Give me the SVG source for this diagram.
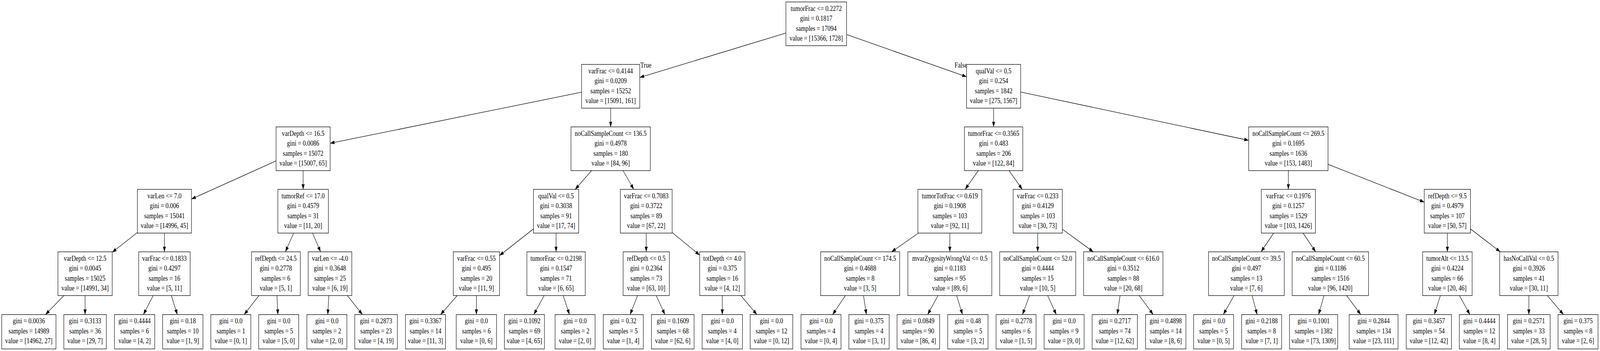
<svg xmlns="http://www.w3.org/2000/svg" width="4880" height="899" viewBox="0 0 4880 899" preserveAspectRatio="none">
<style>
svg{width:100vw;height:100vh;display:block}
.nd rect{fill:#fff;stroke:#000;stroke-width:1.3}
text{font-family:"Liberation Serif","Times New Roman",serif;font-size:18.3px;fill:#000;text-anchor:middle}
.edges line{stroke:#000;stroke-width:1.3;fill:none;marker-end:url(#ah)}
</style>
<defs>
<marker id="ah" markerUnits="userSpaceOnUse" markerWidth="14" markerHeight="10" viewBox="0 0 14 10" refX="13.3" refY="4.7" orient="auto"><path d="M0,0 L13.3,4.7 L0,9.4 z" fill="#000"/></marker>
</defs>
<rect width="4880" height="899" fill="#fff"/>
<g id="edges" class="edges">
<line x1="2397" y1="84.6" x2="1951.25" y2="198.35"/>
<line x1="2582" y1="88.36" x2="2948" y2="196.6"/>
<line x1="1773.75" y1="236.14" x2="1007" y2="366.93"/>
<line x1="1862.5" y1="277" x2="1862.5" y2="325"/>
<line x1="842" y1="412.2" x2="584" y2="509.8"/>
<line x1="924.5" y1="437" x2="924.5" y2="485"/>
<line x1="419" y1="595.55" x2="342.25" y2="646.3"/>
<line x1="501.5" y1="597" x2="501.5" y2="645"/>
<line x1="194.9" y1="757" x2="138.7" y2="805.7"/>
<line x1="259.5" y1="757" x2="259.5" y2="805.7"/>
<line x1="467.2" y1="757" x2="437.4" y2="805.7"/>
<line x1="522.6" y1="757" x2="540.9" y2="805.7"/>
<line x1="895.45" y1="597" x2="870.55" y2="645"/>
<line x1="953.2" y1="597" x2="977.8" y2="645"/>
<line x1="789.7" y1="757" x2="744.7" y2="805.7"/>
<line x1="844.7" y1="757" x2="847.5" y2="805.7"/>
<line x1="1002.9" y1="757" x2="999.8" y2="805.7"/>
<line x1="1059.4" y1="757" x2="1105.4" y2="805.7"/>
<line x1="1804.2" y1="437" x2="1754.3" y2="485"/>
<line x1="1900.5" y1="437" x2="1933" y2="485"/>
<line x1="1627" y1="586.4" x2="1523.5" y2="654.6"/>
<line x1="1696" y1="597" x2="1696" y2="645"/>
<line x1="1394.5" y1="757" x2="1343.7" y2="805.7"/>
<line x1="1453" y1="757" x2="1453" y2="805.7"/>
<line x1="1659.7" y1="757" x2="1628.1" y2="805.7"/>
<line x1="1717.8" y1="757" x2="1736.8" y2="805.7"/>
<line x1="1971" y1="597" x2="1971" y2="645"/>
<line x1="2050" y1="595.5" x2="2134" y2="653.4"/>
<line x1="1944.6" y1="757" x2="1921.7" y2="805.7"/>
<line x1="2001.5" y1="757" x2="2028" y2="805.7"/>
<line x1="2203" y1="757" x2="2203" y2="805.7"/>
<line x1="2259.5" y1="757" x2="2308.6" y2="805.7"/>
<line x1="3030.5" y1="277" x2="3030.5" y2="325"/>
<line x1="2983.8" y1="437" x2="2943.7" y2="485"/>
<line x1="3077.6" y1="437" x2="3117.9" y2="485"/>
<line x1="2801.3" y1="597" x2="2719.2" y2="645"/>
<line x1="2897" y1="597" x2="2897" y2="645"/>
<line x1="2578.5" y1="757" x2="2539.4" y2="805.7"/>
<line x1="2633.7" y1="757" x2="2642.5" y2="805.7"/>
<line x1="2860.8" y1="757" x2="2829.4" y2="805.7"/>
<line x1="2917.7" y1="757" x2="2935.7" y2="805.7"/>
<line x1="3165" y1="597" x2="3165" y2="645"/>
<line x1="3240" y1="587" x2="3334.65" y2="645"/>
<line x1="3140.1" y1="757" x2="3118.5" y2="805.7"/>
<line x1="3195.3" y1="757" x2="3221.7" y2="805.7"/>
<line x1="3416.2" y1="757" x2="3407.7" y2="805.7"/>
<line x1="3474.8" y1="757" x2="3517.2" y2="805.7"/>
<line x1="3113" y1="235.7" x2="3808.5" y2="359.5"/>
<line x1="3929.5" y1="437" x2="3929.5" y2="485"/>
<line x1="4050.5" y1="420.9" x2="4344" y2="517.7"/>
<line x1="3884.7" y1="597" x2="3846.3" y2="645"/>
<line x1="3974.3" y1="597" x2="4012.7" y2="645"/>
<line x1="3763.8" y1="757" x2="3731.1" y2="805.7"/>
<line x1="3819" y1="757" x2="3834.2" y2="805.7"/>
<line x1="4038.3" y1="757" x2="4021.6" y2="805.7"/>
<line x1="4107.2" y1="757" x2="4150.4" y2="805.7"/>
<line x1="4414.5" y1="597" x2="4414.5" y2="645"/>
<line x1="4485" y1="586.4" x2="4576" y2="645"/>
<line x1="4393.2" y1="757" x2="4374.7" y2="805.7"/>
<line x1="4451.2" y1="757" x2="4483.1" y2="805.7"/>
<line x1="4663" y1="757" x2="4663" y2="805.7"/>
<line x1="4719.5" y1="757" x2="4768.6" y2="805.7"/>
<text x="1953" y="173" style="text-anchor:start">True</text>
<text x="2950" y="173" style="text-anchor:end">False</text>
</g>
<g id="node0" class="nd" transform="translate(2489.5,61)"><rect x="-92.5" y="-56" width="185" height="112"/><text y="-33.3">tumorFrac &lt;= 0.2272</text><text y="-7.8">gini = 0.1817</text><text y="17.7">samples = 17094</text><text y="43.2">value = [15366, 1728]</text></g>
<g id="node1" class="nd" transform="translate(1862.5,221)"><rect x="-88.75" y="-56" width="177.5" height="112"/><text y="-33.3">varFrac &lt;= 0.4144</text><text y="-7.8">gini = 0.0209</text><text y="17.7">samples = 15252</text><text y="43.2">value = [15091, 161]</text></g>
<g id="node2" class="nd" transform="translate(924.5,381)"><rect x="-82.5" y="-56" width="165" height="112"/><text y="-33.3">varDepth &lt;= 16.5</text><text y="-7.8">gini = 0.0086</text><text y="17.7">samples = 15072</text><text y="43.2">value = [15007, 65]</text></g>
<g id="node3" class="nd" transform="translate(501.5,541)"><rect x="-82.5" y="-56" width="165" height="112"/><text y="-33.3">varLen &lt;= 7.0</text><text y="-7.8">gini = 0.006</text><text y="17.7">samples = 15041</text><text y="43.2">value = [14996, 45]</text></g>
<g id="node4" class="nd" transform="translate(259.5,701)"><rect x="-82.75" y="-56" width="165.5" height="112"/><text y="-33.3">varDepth &lt;= 12.5</text><text y="-7.8">gini = 0.0045</text><text y="17.7">samples = 15025</text><text y="43.2">value = [14991, 34]</text></g>
<g id="node5" class="nd" transform="translate(88,849.7)"><rect x="-82.7" y="-44" width="165.4" height="88"/><text y="-21.4">gini = 0.0036</text><text y="4.1">samples = 14989</text><text y="29.6">value = [14962, 27]</text></g>
<g id="node6" class="nd" transform="translate(259.5,849.7)"><rect x="-64.8" y="-44" width="129.6" height="88"/><text y="-21.4">gini = 0.3133</text><text y="4.1">samples = 36</text><text y="29.6">value = [29, 7]</text></g>
<g id="node7" class="nd" transform="translate(501.5,701)"><rect x="-78.5" y="-56" width="157" height="112"/><text y="-33.3">varFrac &lt;= 0.1833</text><text y="-7.8">gini = 0.4297</text><text y="17.7">samples = 16</text><text y="43.2">value = [5, 11]</text></g>
<g id="node8" class="nd" transform="translate(410.5,849.7)"><rect x="-61.5" y="-44" width="123" height="88"/><text y="-21.4">gini = 0.4444</text><text y="4.1">samples = 6</text><text y="29.6">value = [4, 2]</text></g>
<g id="node9" class="nd" transform="translate(557.5,849.7)"><rect x="-61.5" y="-44" width="123" height="88"/><text y="-21.4">gini = 0.18</text><text y="4.1">samples = 10</text><text y="29.6">value = [1, 9]</text></g>
<g id="node10" class="nd" transform="translate(924.5,541)"><rect x="-77" y="-56" width="154" height="112"/><text y="-33.3">tumorRef &lt;= 17.0</text><text y="-7.8">gini = 0.4579</text><text y="17.7">samples = 31</text><text y="43.2">value = [11, 20]</text></g>
<g id="node11" class="nd" transform="translate(841.5,701)"><rect x="-74.5" y="-56" width="149" height="112"/><text y="-33.3">refDepth &lt;= 24.5</text><text y="-7.8">gini = 0.2778</text><text y="17.7">samples = 6</text><text y="43.2">value = [5, 1]</text></g>
<g id="node12" class="nd" transform="translate(704,849.7)"><rect x="-61" y="-44" width="122" height="88"/><text y="-21.4">gini = 0.0</text><text y="4.1">samples = 1</text><text y="29.6">value = [0, 1]</text></g>
<g id="node13" class="nd" transform="translate(850,849.7)"><rect x="-61" y="-44" width="122" height="88"/><text y="-21.4">gini = 0.0</text><text y="4.1">samples = 5</text><text y="29.6">value = [5, 0]</text></g>
<g id="node14" class="nd" transform="translate(1006.5,701)"><rect x="-66.5" y="-56" width="133" height="112"/><text y="-33.3">varLen &lt;= -4.0</text><text y="-7.8">gini = 0.3648</text><text y="17.7">samples = 25</text><text y="43.2">value = [6, 19]</text></g>
<g id="node15" class="nd" transform="translate(997,849.7)"><rect x="-61" y="-44" width="122" height="88"/><text y="-21.4">gini = 0.0</text><text y="4.1">samples = 2</text><text y="29.6">value = [2, 0]</text></g>
<g id="node16" class="nd" transform="translate(1147,849.7)"><rect x="-65" y="-44" width="130" height="88"/><text y="-21.4">gini = 0.2873</text><text y="4.1">samples = 23</text><text y="29.6">value = [4, 19]</text></g>
<g id="node17" class="nd" transform="translate(1862.5,381)"><rect x="-121" y="-56" width="242" height="112"/><text y="-33.3">noCallSampleCount &lt;= 136.5</text><text y="-7.8">gini = 0.4978</text><text y="17.7">samples = 180</text><text y="43.2">value = [84, 96]</text></g>
<g id="node18" class="nd" transform="translate(1696,541)"><rect x="-69" y="-56" width="138" height="112"/><text y="-33.3">qualVal &lt;= 0.5</text><text y="-7.8">gini = 0.3038</text><text y="17.7">samples = 91</text><text y="43.2">value = [17, 74]</text></g>
<g id="node19" class="nd" transform="translate(1453,701)"><rect x="-70.5" y="-56" width="141" height="112"/><text y="-33.3">varFrac &lt;= 0.55</text><text y="-7.8">gini = 0.495</text><text y="17.7">samples = 20</text><text y="43.2">value = [11, 9]</text></g>
<g id="node20" class="nd" transform="translate(1297.75,849.7)"><rect x="-61" y="-44" width="122" height="88"/><text y="-21.4">gini = 0.3367</text><text y="4.1">samples = 14</text><text y="29.6">value = [11, 3]</text></g>
<g id="node21" class="nd" transform="translate(1453,849.7)"><rect x="-61.5" y="-44" width="123" height="88"/><text y="-21.4">gini = 0.0</text><text y="4.1">samples = 6</text><text y="29.6">value = [0, 6]</text></g>
<g id="node22" class="nd" transform="translate(1696,701)"><rect x="-89" y="-56" width="178" height="112"/><text y="-33.3">tumorFrac &lt;= 0.2198</text><text y="-7.8">gini = 0.1547</text><text y="17.7">samples = 71</text><text y="43.2">value = [6, 65]</text></g>
<g id="node23" class="nd" transform="translate(1599.5,849.7)"><rect x="-61" y="-44" width="122" height="88"/><text y="-21.4">gini = 0.1092</text><text y="4.1">samples = 69</text><text y="29.6">value = [4, 65]</text></g>
<g id="node24" class="nd" transform="translate(1754,849.7)"><rect x="-61" y="-44" width="122" height="88"/><text y="-21.4">gini = 0.0</text><text y="4.1">samples = 2</text><text y="29.6">value = [2, 0]</text></g>
<g id="node25" class="nd" transform="translate(1971,541)"><rect x="-79" y="-56" width="158" height="112"/><text y="-33.3">varFrac &lt;= 0.7083</text><text y="-7.8">gini = 0.3722</text><text y="17.7">samples = 89</text><text y="43.2">value = [67, 22]</text></g>
<g id="node26" class="nd" transform="translate(1971,701)"><rect x="-70.5" y="-56" width="141" height="112"/><text y="-33.3">refDepth &lt;= 0.5</text><text y="-7.8">gini = 0.2364</text><text y="17.7">samples = 73</text><text y="43.2">value = [63, 10]</text></g>
<g id="node27" class="nd" transform="translate(1901,849.7)"><rect x="-61" y="-44" width="122" height="88"/><text y="-21.4">gini = 0.32</text><text y="4.1">samples = 5</text><text y="29.6">value = [1, 4]</text></g>
<g id="node28" class="nd" transform="translate(2052,849.7)"><rect x="-65" y="-44" width="130" height="88"/><text y="-21.4">gini = 0.1609</text><text y="4.1">samples = 68</text><text y="29.6">value = [62, 6]</text></g>
<g id="node29" class="nd" transform="translate(2203,701)"><rect x="-69" y="-56" width="138" height="112"/><text y="-33.3">totDepth &lt;= 4.0</text><text y="-7.8">gini = 0.375</text><text y="17.7">samples = 16</text><text y="43.2">value = [4, 12]</text></g>
<g id="node30" class="nd" transform="translate(2203,849.7)"><rect x="-61.5" y="-44" width="123" height="88"/><text y="-21.4">gini = 0.0</text><text y="4.1">samples = 4</text><text y="29.6">value = [4, 0]</text></g>
<g id="node31" class="nd" transform="translate(2353,849.7)"><rect x="-65" y="-44" width="130" height="88"/><text y="-21.4">gini = 0.0</text><text y="4.1">samples = 12</text><text y="29.6">value = [0, 12]</text></g>
<g id="node32" class="nd" transform="translate(3030.5,221)"><rect x="-82.5" y="-56" width="165" height="112"/><text y="-33.3">qualVal &lt;= 0.5</text><text y="-7.8">gini = 0.254</text><text y="17.7">samples = 1842</text><text y="43.2">value = [275, 1567]</text></g>
<g id="node33" class="nd" transform="translate(3030.5,381)"><rect x="-89" y="-56" width="178" height="112"/><text y="-33.3">tumorFrac &lt;= 0.3565</text><text y="-7.8">gini = 0.483</text><text y="17.7">samples = 206</text><text y="43.2">value = [122, 84]</text></g>
<g id="node34" class="nd" transform="translate(2897,541)"><rect x="-97.5" y="-56" width="195" height="112"/><text y="-33.3">tumorTotFrac &lt;= 0.619</text><text y="-7.8">gini = 0.1908</text><text y="17.7">samples = 103</text><text y="43.2">value = [92, 11]</text></g>
<g id="node35" class="nd" transform="translate(2623.5,701)"><rect x="-120.5" y="-56" width="241" height="112"/><text y="-33.3">noCallSampleCount &lt;= 174.5</text><text y="-7.8">gini = 0.4688</text><text y="17.7">samples = 8</text><text y="43.2">value = [3, 5]</text></g>
<g id="node36" class="nd" transform="translate(2504,849.7)"><rect x="-61" y="-44" width="122" height="88"/><text y="-21.4">gini = 0.0</text><text y="4.1">samples = 4</text><text y="29.6">value = [0, 4]</text></g>
<g id="node37" class="nd" transform="translate(2650.5,849.7)"><rect x="-61.5" y="-44" width="123" height="88"/><text y="-21.4">gini = 0.375</text><text y="4.1">samples = 4</text><text y="29.6">value = [3, 1]</text></g>
<g id="node38" class="nd" transform="translate(2897,701)"><rect x="-128" y="-56" width="256" height="112"/><text y="-33.3">mvarZygosityWrongVal &lt;= 0.5</text><text y="-7.8">gini = 0.1183</text><text y="17.7">samples = 95</text><text y="43.2">value = [89, 6]</text></g>
<g id="node39" class="nd" transform="translate(2801,849.7)"><rect x="-65" y="-44" width="130" height="88"/><text y="-21.4">gini = 0.0849</text><text y="4.1">samples = 90</text><text y="29.6">value = [86, 4]</text></g>
<g id="node40" class="nd" transform="translate(2952,849.7)"><rect x="-61.5" y="-44" width="123" height="88"/><text y="-21.4">gini = 0.48</text><text y="4.1">samples = 5</text><text y="29.6">value = [3, 2]</text></g>
<g id="node41" class="nd" transform="translate(3165,541)"><rect x="-75" y="-56" width="150" height="112"/><text y="-33.3">varFrac &lt;= 0.233</text><text y="-7.8">gini = 0.4129</text><text y="17.7">samples = 103</text><text y="43.2">value = [30, 73]</text></g>
<g id="node42" class="nd" transform="translate(3165,701)"><rect x="-116" y="-56" width="232" height="112"/><text y="-33.3">noCallSampleCount &lt;= 52.0</text><text y="-7.8">gini = 0.4444</text><text y="17.7">samples = 15</text><text y="43.2">value = [10, 5]</text></g>
<g id="node43" class="nd" transform="translate(3099,849.7)"><rect x="-61" y="-44" width="122" height="88"/><text y="-21.4">gini = 0.2778</text><text y="4.1">samples = 6</text><text y="29.6">value = [1, 5]</text></g>
<g id="node44" class="nd" transform="translate(3245.5,849.7)"><rect x="-61" y="-44" width="122" height="88"/><text y="-21.4">gini = 0.0</text><text y="4.1">samples = 9</text><text y="29.6">value = [9, 0]</text></g>
<g id="node45" class="nd" transform="translate(3426,701)"><rect x="-121" y="-56" width="242" height="112"/><text y="-33.3">noCallSampleCount &lt;= 616.0</text><text y="-7.8">gini = 0.3512</text><text y="17.7">samples = 88</text><text y="43.2">value = [20, 68]</text></g>
<g id="node46" class="nd" transform="translate(3400,849.7)"><rect x="-69" y="-44" width="138" height="88"/><text y="-21.4">gini = 0.2717</text><text y="4.1">samples = 74</text><text y="29.6">value = [12, 62]</text></g>
<g id="node47" class="nd" transform="translate(3555.5,849.7)"><rect x="-61.5" y="-44" width="123" height="88"/><text y="-21.4">gini = 0.4898</text><text y="4.1">samples = 14</text><text y="29.6">value = [8, 6]</text></g>
<g id="node48" class="nd" transform="translate(3929.5,381)"><rect x="-121" y="-56" width="242" height="112"/><text y="-33.3">noCallSampleCount &lt;= 269.5</text><text y="-7.8">gini = 0.1695</text><text y="17.7">samples = 1636</text><text y="43.2">value = [153, 1483]</text></g>
<g id="node49" class="nd" transform="translate(3929.5,541)"><rect x="-82.5" y="-56" width="165" height="112"/><text y="-33.3">varFrac &lt;= 0.1976</text><text y="-7.8">gini = 0.1257</text><text y="17.7">samples = 1529</text><text y="43.2">value = [103, 1426]</text></g>
<g id="node50" class="nd" transform="translate(3801.5,701)"><rect x="-115.5" y="-56" width="231" height="112"/><text y="-33.3">noCallSampleCount &lt;= 39.5</text><text y="-7.8">gini = 0.497</text><text y="17.7">samples = 13</text><text y="43.2">value = [7, 6]</text></g>
<g id="node51" class="nd" transform="translate(3701.5,849.7)"><rect x="-61" y="-44" width="122" height="88"/><text y="-21.4">gini = 0.0</text><text y="4.1">samples = 5</text><text y="29.6">value = [0, 5]</text></g>
<g id="node52" class="nd" transform="translate(3848,849.7)"><rect x="-61" y="-44" width="122" height="88"/><text y="-21.4">gini = 0.2188</text><text y="4.1">samples = 8</text><text y="29.6">value = [7, 1]</text></g>
<g id="node53" class="nd" transform="translate(4057.5,701)"><rect x="-116.5" y="-56" width="233" height="112"/><text y="-33.3">noCallSampleCount &lt;= 60.5</text><text y="-7.8">gini = 0.1186</text><text y="17.7">samples = 1516</text><text y="43.2">value = [96, 1420]</text></g>
<g id="node54" class="nd" transform="translate(4006.5,849.7)"><rect x="-73.5" y="-44" width="147" height="88"/><text y="-21.4">gini = 0.1001</text><text y="4.1">samples = 1382</text><text y="29.6">value = [73, 1309]</text></g>
<g id="node55" class="nd" transform="translate(4189.5,849.7)"><rect x="-74.5" y="-44" width="149" height="88"/><text y="-21.4">gini = 0.2844</text><text y="4.1">samples = 134</text><text y="29.6">value = [23, 111]</text></g>
<g id="node56" class="nd" transform="translate(4414.5,541)"><rect x="-70.5" y="-56" width="141" height="112"/><text y="-33.3">refDepth &lt;= 9.5</text><text y="-7.8">gini = 0.4979</text><text y="17.7">samples = 107</text><text y="43.2">value = [50, 57]</text></g>
<g id="node57" class="nd" transform="translate(4414.5,701)"><rect x="-75.5" y="-56" width="151" height="112"/><text y="-33.3">tumorAlt &lt;= 13.5</text><text y="-7.8">gini = 0.4224</text><text y="17.7">samples = 66</text><text y="43.2">value = [20, 46]</text></g>
<g id="node58" class="nd" transform="translate(4358,849.7)"><rect x="-69" y="-44" width="138" height="88"/><text y="-21.4">gini = 0.3457</text><text y="4.1">samples = 54</text><text y="29.6">value = [12, 42]</text></g>
<g id="node59" class="nd" transform="translate(4512,849.7)"><rect x="-61" y="-44" width="122" height="88"/><text y="-21.4">gini = 0.4444</text><text y="4.1">samples = 12</text><text y="29.6">value = [8, 4]</text></g>
<g id="node60" class="nd" transform="translate(4663,701)"><rect x="-89" y="-56" width="178" height="112"/><text y="-33.3">hasNoCallVal &lt;= 0.5</text><text y="-7.8">gini = 0.3926</text><text y="17.7">samples = 41</text><text y="43.2">value = [30, 11]</text></g>
<g id="node61" class="nd" transform="translate(4663,849.7)"><rect x="-65" y="-44" width="130" height="88"/><text y="-21.4">gini = 0.2571</text><text y="4.1">samples = 33</text><text y="29.6">value = [28, 5]</text></g>
<g id="node62" class="nd" transform="translate(4813,849.7)"><rect x="-61" y="-44" width="122" height="88"/><text y="-21.4">gini = 0.375</text><text y="4.1">samples = 8</text><text y="29.6">value = [2, 6]</text></g>
</svg>
